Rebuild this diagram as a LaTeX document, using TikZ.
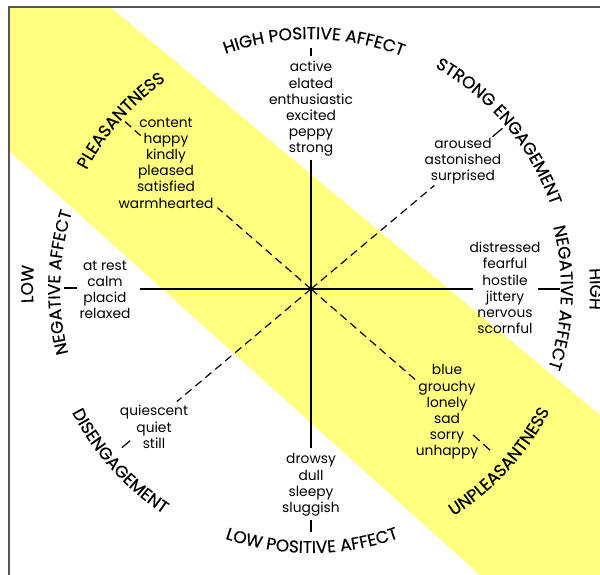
\documentclass[tikz,border=0pt]{standalone}
\usepackage{fontspec}
\setmainfont{Poppins}
\newfontfamily\labelfam[FakeBold=0.4]{Poppins}
\usetikzlibrary{decorations.text}
\definecolor{band}{RGB}{255,255,128}
\definecolor{framegray}{RGB}{85,85,85}
\newcommand\lblf{\labelfam\fontsize{17}{17}\selectfont}
\begin{document}
\begin{tikzpicture}[x=1pt,y=1pt,
  words/.style={align=center, font=\fontsize{13.8}{16.2}\selectfont, inner sep=0pt},
  axisline/.style={line width=1.2pt, black},
  dashline/.style={line width=1.2pt, black, dash pattern=on 8pt off 5pt},
  tickline/.style={line width=1.2pt, black},
  arclabel/.style={decorate, decoration={text along path, text align=center, text={#1}}},
]
\useasboundingbox (0,0) rectangle (600,575);
% yellow band
\fill[band] (8,568) -- (110,568) -- (600,160) -- (600,0) -- (480,0) -- (8,425) -- cycle;
% frame
\draw[framegray, line width=2pt] (9,0) -- (9,568) -- (600,568);

\coordinate (C) at (311,286);
\node[circle, fill=black, inner sep=0pt, minimum size=4.5pt] (ctr) at (C) {};

% axis end points
\coordinate (vt) at (311,415);
\coordinate (vb) at (311,127);
\coordinate (hl) at (140,286);
\coordinate (hr) at (473,286);
\draw[axisline] (vt) -- (vb);
\draw[axisline] (hl) -- (hr);

% diagonal ends
\path (C) ++(40:161) coordinate (ne);
\path (C) ++(139:124) coordinate (nw);
\path (C) ++(220:175) coordinate (sw);
\path (C) ++(319:140) coordinate (se);
\draw[dashline] (ctr.center) -- (ne);
\draw[dashline] (ctr.center) -- (nw);
\draw[dashline] (ctr.center) -- (sw);
\draw[dashline] (ctr.center) -- (se);

% short marks between lists and labels
\path (C) ++(40:237) coordinate (ne1) ++(40:13) coordinate (ne2);
\path (C) ++(138:229) coordinate (nw1) ++(138:21) coordinate (nw2);
\path (C) ++(220:236) coordinate (sw1) ++(220:11) coordinate (sw2);
\path (C) ++(318:218) coordinate (se1) ++(318:24) coordinate (se2);
\draw[tickline] (ne1) -- (ne2);
\draw[dashline, dash pattern=on 8pt off 5pt] (nw1) -- (nw2);
\draw[tickline] (sw1) -- (sw2);
\draw[dashline, dash pattern=on 9pt off 5pt] (se1) -- (se2);

\coordinate (tt1) at (311,527);
\coordinate (tt2) at (311,519);
\coordinate (bt1) at (311,55);
\coordinate (bt2) at (311,43);
\coordinate (lt1) at (64,287);
\coordinate (lt2) at (77,287);
\coordinate (rt1) at (538,286);
\coordinate (rt2) at (560,286);
\draw[tickline] (tt1) -- (tt2);
\draw[tickline] (bt1) -- (bt2);
\draw[tickline] (lt1) -- (lt2);
\draw[tickline] (rt1) -- (rt2);

% word lists
\node[words] (hpa) at (311,466) {active\\elated\\enthusiastic\\excited\\peppy\\strong};
\node[words] (plea) at (166,412) {content\\happy\\kindly\\pleased\\satisfied\\warmhearted};
\node[words] (seng) at (463,414) {aroused\\astonished\\surprised};
\node[words] (hna) at (505,287) {distressed\\fearful\\hostile\\jittery\\nervous\\scornful};
\node[words] (lna) at (105,285) {at rest\\calm\\placid\\relaxed};
\node[words] (dis) at (154,148) {quiescent\\quiet\\still};
\node[words] (lpa) at (311,90) {drowsy\\dull\\sleepy\\sluggish};
\node[words] (unp) at (447,163) {blue\\grouchy\\lonely\\sad\\sorry\\unhappy};

% curved labels
\begin{scope}[shift={(C)}]
\path[arclabel={|\lblf|HIGH POSITIVE AFFECT}] (134.3:250) arc[start angle=134.3, end angle=44.3, radius=250];
\path[arclabel={|\lblf|STRONG ENGAGEMENT}] (85:254) arc[start angle=85, end angle=-5, radius=254];
\path[arclabel={|\lblf|PLEASANTNESS}] (183.5:254) arc[start angle=183.5, end angle=93.5, radius=254];
\path[arclabel={|\lblf|NEGATIVE AFFECT}] (43:250) arc[start angle=43, end angle=-47, radius=250];
\path[arclabel={|\lblf|HIGH}] (30:279) arc[start angle=30, end angle=-30, radius=279];
\path[arclabel={|\lblf|NEGATIVE AFFECT}] (223.5:251) arc[start angle=223.5, end angle=133.5, radius=251];
\path[arclabel={|\lblf|LOW}] (209:278) arc[start angle=209, end angle=149, radius=278];
\path[arclabel={|\lblf|DISENGAGEMENT}] (177:269) arc[start angle=177, end angle=267, radius=269];
\path[arclabel={|\lblf|LOW POSITIVE AFFECT}] (225.2:264) arc[start angle=225.2, end angle=315.2, radius=264];
\path[arclabel={|\lblf|UNPLEASANTNESS}] (272.5:268) arc[start angle=272.5, end angle=362.5, radius=268];
\end{scope}
\end{tikzpicture}
\end{document}
